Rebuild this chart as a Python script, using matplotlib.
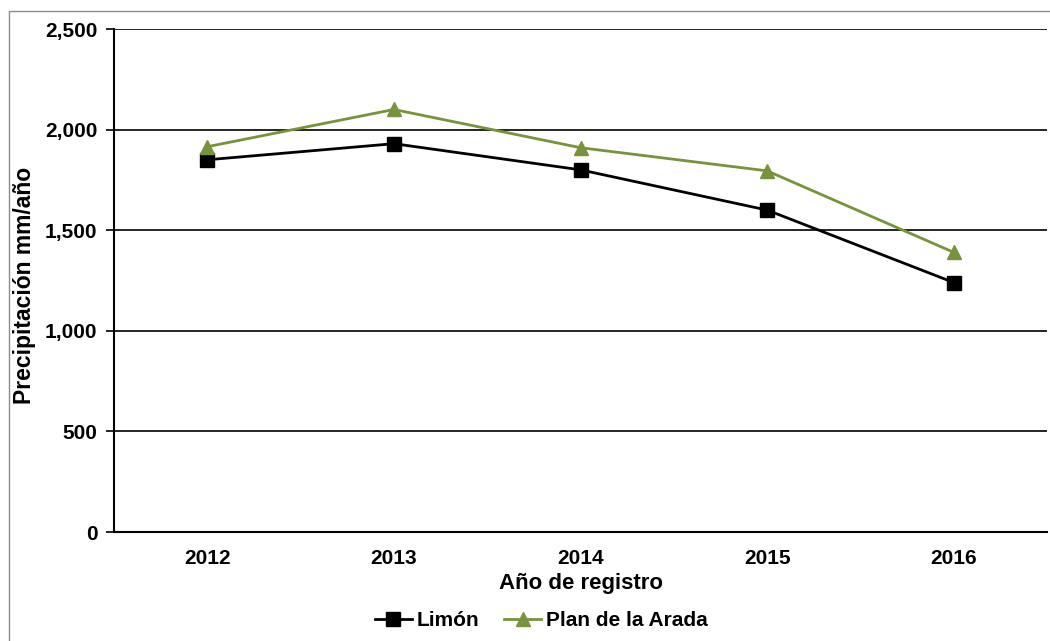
import matplotlib
matplotlib.use("Agg")
import matplotlib.pyplot as plt
from matplotlib.patches import Rectangle

years = ["2012", "2013", "2014", "2015", "2016"]
limon = [1850, 1930, 1800, 1600, 1240]
plan_arada = [1915, 2100, 1910, 1795, 1390]
y_ticks = [0, 500, 1000, 1500, 2000, 2500]

plt.rcParams["font.family"] = ["Liberation Sans", "DejaVu Sans"]
plt.rcParams["font.weight"] = "bold"

W, H = 1050, 641
fig = plt.figure(figsize=(W / 100, H / 100), dpi=100)
ax = fig.add_axes([114 / W, 1 - 532 / H, (1047 - 114) / W, (532 - 29) / H])

# outer chart frame
fig.patches.append(Rectangle((9 / W, -0.01), 1.1, 1 - 11 / H + 0.01,
                             transform=fig.transFigure, fill=False,
                             edgecolor="#8c8c8c", linewidth=1.0))

x = range(len(years))
ax.plot(x, limon, color="black", linewidth=2, marker="s", markersize=10,
        label="Limón")
ax.plot(x, plan_arada, color="#77933C", linewidth=2, marker="^",
        markersize=10.5, label="Plan de la Arada")

ax.set_xlim(-0.5, len(years) - 0.5)
ax.set_ylim(0, 2500)
ax.set_yticks(y_ticks)
ax.set_yticklabels([f"{v:,}" for v in y_ticks])
ax.set_xticks(list(x))
ax.set_xticklabels(years)
ax.grid(axis="y", color="black", linewidth=1.2)
ax.set_axisbelow(True)

for side in ["top", "right"]:
    ax.spines[side].set_visible(False)
ax.spines["left"].set_linewidth(1.5)
ax.spines["bottom"].set_linewidth(1.5)
ax.tick_params(axis="y", length=6, width=1.2, labelsize=15, pad=6)
ax.tick_params(axis="x", length=0, labelsize=15, pad=12)

fig.text(581 / W, 1 - 584 / H, "Año de registro", fontsize=16,
         fontweight="bold", ha="center", va="center")
fig.text(25 / W, 1 - 285 / H, "Precipitación mm/año", fontsize=16.5,
         fontweight="bold", ha="center", va="center", rotation=90)

fig.legend(loc="center", bbox_to_anchor=(541 / W, 1 - 621 / H), ncol=2,
           frameon=False, fontsize=15, handlelength=1.8, handletextpad=0.2,
           columnspacing=1.2)

fig.savefig("out.png", dpi=100)
